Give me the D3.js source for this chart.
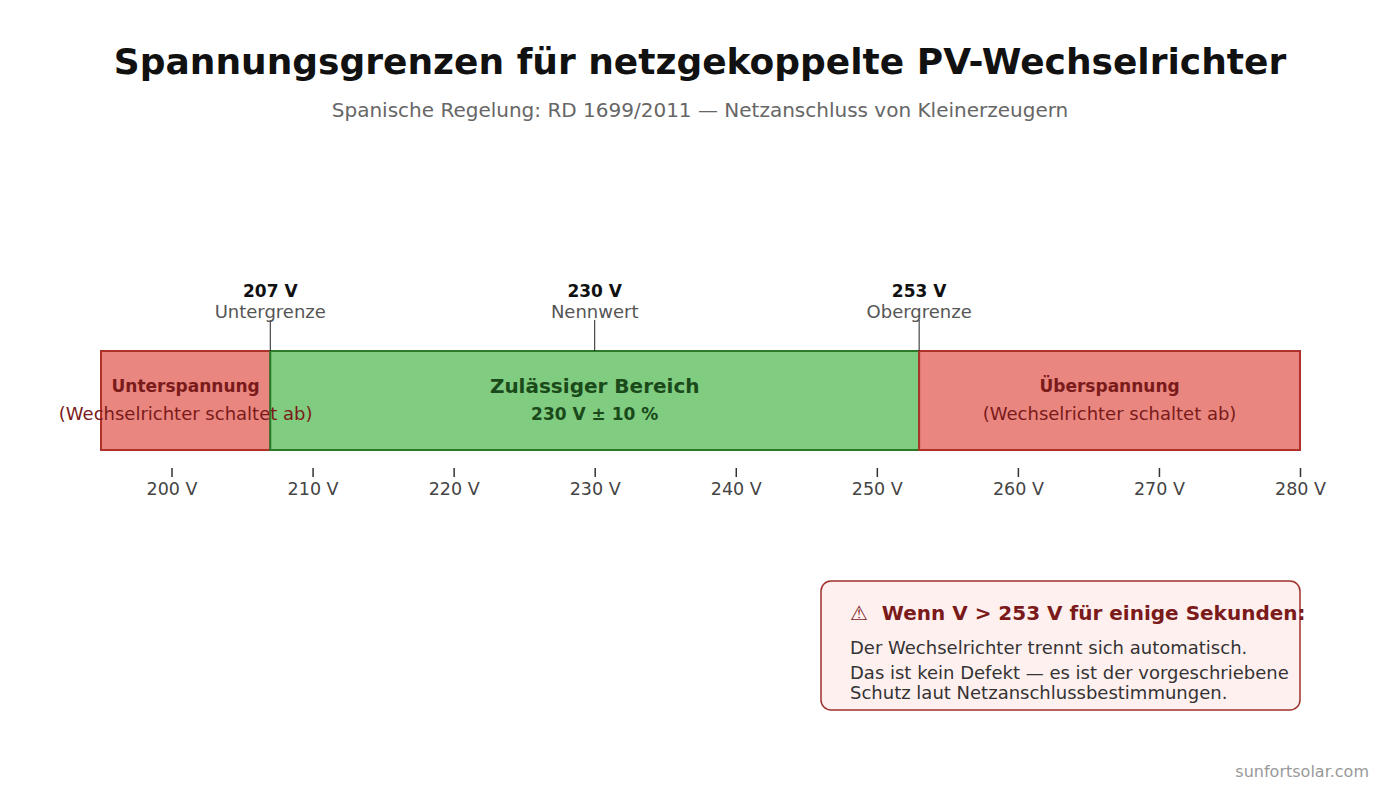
<!DOCTYPE html>
<html><head><meta charset="utf-8">
<script src="https://cdn.jsdelivr.net/npm/d3@7/dist/d3.min.js"></script>
<style>body{margin:0;background:#fff;font-family:"DejaVu Sans",sans-serif}</style>
</head><body><svg id="c" width="1400" height="800"></svg>
<script>
const zoneNames = ["Unterspannung", "Zulässiger Bereich", "Überspannung"];
const zoneStart = [195, 207, 253];
const zoneEnd = [207, 253, 280];
const zoneSub = ["(Wechselrichter schaltet ab)", "230 V ± 10 %", "(Wechselrichter schaltet ab)"];
const zoneKind = ["bad", "ok", "bad"];
const markerValues = [207, 230, 253];
const markerNames = ["Untergrenze", "Nennwert", "Obergrenze"];
const tickValues = [200, 210, 220, 230, 240, 250, 260, 270, 280];
const noteTitle = "⚠  Wenn V > 253 V für einige Sekunden:";
const noteLines = ["Der Wechselrichter trennt sich automatisch.", "Das ist kein Defekt — es ist der vorgeschriebene", "Schutz laut Netzanschlussbestimmungen."];

const svg = d3.select("#c").attr("font-family", "DejaVu Sans");
const x = d3.scaleLinear().domain([195, 280]).range([101, 1300]);
const barTop = 351, barH = 99;
const fills = {bad: "#e8867f", ok: "#80cc80"};
const strokes = {bad: "#b0302a", ok: "#2a7a2a"};

svg.append("text").attr("x", 700).attr("y", 74).attr("text-anchor", "middle")
  .attr("font-size", 36).attr("font-weight", "bold").attr("fill", "#111")
  .text("Spannungsgrenzen für netzgekoppelte PV-Wechselrichter");
svg.append("text").attr("x", 700).attr("y", 117).attr("text-anchor", "middle")
  .attr("font-size", 20).attr("fill", "#666")
  .text("Spanische Regelung: RD 1699/2011 — Netzanschluss von Kleinerzeugern");

const zones = zoneNames.map((n, i) => ({n, s: zoneStart[i], e: zoneEnd[i], sub: zoneSub[i], k: zoneKind[i]}));
svg.selectAll("rect.zone").data(zones).join("rect").attr("class", "zone")
  .attr("x", d => x(d.s)).attr("y", barTop).attr("width", d => x(d.e) - x(d.s)).attr("height", barH)
  .attr("fill", d => fills[d.k]).attr("stroke", d => strokes[d.k]).attr("stroke-width", 2);

zones.forEach(d => {
  const cx = (x(d.s) + x(d.e)) / 2;
  const ok = d.k === "ok";
  svg.append("text").attr("x", cx).attr("y", ok ? 393 : 392).attr("text-anchor", "middle")
    .attr("font-size", ok ? 20 : 17).attr("font-weight", "bold").attr("fill", ok ? "#1a4a1a" : "#7a1a1a").text(d.n);
  svg.append("text").attr("x", cx).attr("y", 420).attr("text-anchor", "middle")
    .attr("font-size", ok ? 17 : 18).attr("font-weight", ok ? "bold" : "normal")
    .attr("fill", ok ? "#1a4a1a" : "#7a1a1a").text(d.sub);
});

markerValues.forEach((v, i) => {
  svg.append("line").attr("x1", x(v)).attr("x2", x(v)).attr("y1", 320).attr("y2", barTop)
    .attr("stroke", "#222").attr("stroke-width", 1);
  svg.append("text").attr("x", x(v)).attr("y", 297).attr("text-anchor", "middle")
    .attr("font-size", 17).attr("font-weight", "bold").attr("fill", "#111").text(v + " V");
  svg.append("text").attr("x", x(v)).attr("y", 318).attr("text-anchor", "middle")
    .attr("font-size", 18).attr("fill", "#555").text(markerNames[i]);
});

const axis = d3.axisBottom(x).tickValues(tickValues).tickFormat(d => d + " V").tickSize(9).tickPadding(6);
const ag = svg.append("g").attr("transform", "translate(0,468)").call(axis);
ag.select(".domain").remove();
ag.selectAll(".tick line").attr("stroke", "#333").attr("stroke-width", 1.5);
ag.selectAll(".tick text").attr("font-size", 17.5).attr("fill", "#444").attr("font-family", "DejaVu Sans");

svg.append("rect").attr("x", 821).attr("y", 581).attr("width", 479).attr("height", 129).attr("rx", 10)
  .attr("fill", "#fff0f0").attr("stroke", "#a0302a").attr("stroke-width", 1.5);
svg.append("text").attr("x", 850).attr("y", 620).attr("font-size", 20).attr("font-weight", "bold")
  .attr("fill", "#7a1a1a").attr("xml:space", "preserve").style("white-space", "pre").text(noteTitle);
const lineY = [654, 679, 699];
noteLines.forEach((t, i) => svg.append("text").attr("x", 850).attr("y", lineY[i]).attr("font-size", 18)
  .attr("fill", "#333").text(t));

svg.append("text").attr("x", 1369).attr("y", 777).attr("text-anchor", "end").attr("font-size", 16)
  .attr("fill", "#999").text("sunfortsolar.com");
</script></body></html>
